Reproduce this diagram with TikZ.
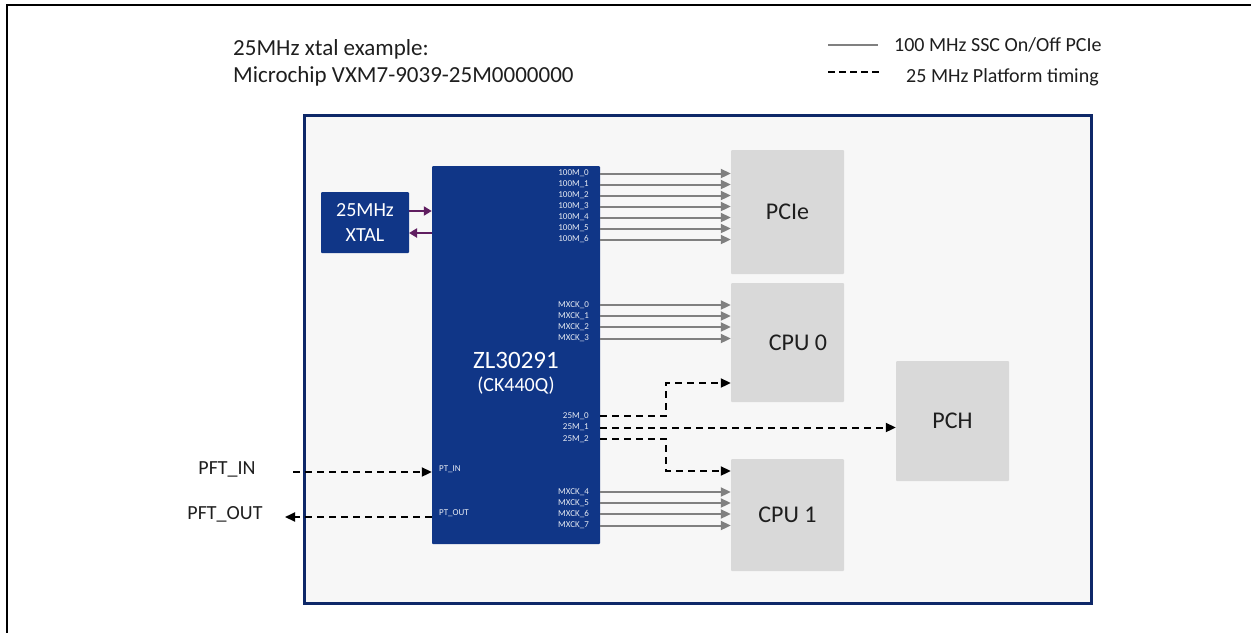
\documentclass[tikz,border=0pt]{standalone}
\usepackage{fontspec}
\setmainfont{Carlito}
\usetikzlibrary{arrows.meta,calc}
\definecolor{chipblue}{RGB}{16,54,135}
\definecolor{navy}{RGB}{14,40,104}
\definecolor{panelbg}{RGB}{247,247,247}
\definecolor{boxgray}{RGB}{217,217,217}
\definecolor{wiregray}{RGB}{128,128,128}
\definecolor{xpurple}{RGB}{96,30,96}
\definecolor{txtgray}{RGB}{30,30,30}
\newcommand{\pxfont}[1]{\fontsize{#1}{1.25\dimexpr#1pt\relax}\selectfont}
\begin{document}
\begin{tikzpicture}[x=1pt,y=-1pt,
  blk/.style={fill=boxgray, draw=none, rounded corners=1, minimum width=113, inner sep=0, font=\pxfont{24}, text=txtgray},
  chipbox/.style={fill=chipblue, draw=none, rounded corners=1, inner sep=0, text=white},
  pinlbl/.style={font=\pxfont{9}, text=white!90!chipblue, inner sep=0, anchor=east},
  wire/.style={draw=wiregray, line width=2},
  warrow/.style={wire, -{Triangle[length=10,width=9]}},
  dsh/.style={draw=black, line width=2, dash pattern=on 7 off 5},
  darrow/.style={dsh, -{Triangle[length=10,width=9]}},
  parrow/.style={draw=xpurple, line width=2, -{Triangle[length=8,width=9]}},
  plain/.style={inner sep=0, text=txtgray}
]
\useasboundingbox (0,0) rectangle (1251,633);
% outer frame
\draw[line width=2] (1251,5) -- (6.5,5) -- (6.5,633);
% panel
\draw[fill=panelbg, draw=navy, line width=3] (304.5,115.5) rectangle (1091.5,603.5);

% title texts
\node[plain, anchor=base west, font=\pxfont{23}] (t1) at (233,55) {25MHz xtal example:};
\node[plain, anchor=base west, font=\pxfont{23}] (t2) at (233,82) {Microchip VXM7-9039-25M0000000};

% legend
\coordinate (l1a) at (828,45);
\coordinate (l1b) at (878,45);
\draw[wire, line width=1.5] (l1a) -- (l1b);
\node[plain, anchor=base west, font=\pxfont{20}] (l1t) at (894,51) {100 MHz SSC On/Off PCIe};
\coordinate (l2a) at (828,72);
\coordinate (l2b) at (882,72);
\draw[dsh, line width=1.5, dash pattern=on 7 off 4] (l2a) -- (l2b);
\node[plain, anchor=base west, font=\pxfont{20}] (l2t) at (906,82) {25 MHz Platform timing};

% boxes
\node[blk, minimum height=124] (pcie) at (787.5,212) {PCIe};
\node[blk, minimum height=119] (cpu0) at (787.5,342.5) {};
\node[plain, font=\pxfont{24}] (cpu0t) at (798,343) {CPU 0};
\node[blk, minimum height=112] (cpu1) at (787.5,515) {CPU 1};
\node[blk, minimum height=120] (pch) at (952.5,421) {PCH};

% chip
\node[chipbox, minimum width=168, minimum height=378] (chip) at (516,355) {};
\node[inner sep=0, text=white, font=\pxfont{25}] (chipname) at (516,360) {ZL30291};
\node[inner sep=0, text=white, font=\pxfont{20}] (chipsub) at (516,386) {(CK440Q)};

% xtal
\node[chipbox, minimum width=88, minimum height=61, align=center, font=\pxfont{20}] (xtal) at (365,222.5) {25MHz\\XTAL};
\coordinate (x1) at (409,211);
\coordinate (x2) at (409,233);
\draw[parrow] (x1) -- (x1 -| chip.west);
\draw[parrow] (x2 -| chip.west) -- (x2);

% 100M outputs
\foreach \i/\y in {0/173.5,1/184.5,2/195.5,3/206.5,4/217.5,5/228.5,6/239.5}{
  \node[pinlbl] (h\i) at (589,\y) {100M\_\i};
  \draw[warrow] (h\i.east -| chip.east) -- (h\i.east -| pcie.west);
}
% MXCK 0-3
\foreach \i/\y in {0/305,1/316,2/327,3/338.5}{
  \node[pinlbl] (m\i) at (589,\y) {MXCK\_\i};
  \draw[warrow] (m\i.east -| chip.east) -- (m\i.east -| cpu0.west);
}
% MXCK 4-7
\foreach \i/\y in {4/492,5/503,6/514,7/525.5}{
  \node[pinlbl] (m\i) at (589,\y) {MXCK\_\i};
  \draw[warrow] (m\i.east -| chip.east) -- (m\i.east -| cpu1.west);
}
% 25M outputs
\node[pinlbl] (q0) at (589,416) {25M\_0};
\node[pinlbl] (q1) at (589,427.5) {25M\_1};
\node[pinlbl] (q2) at (589,439) {25M\_2};
\coordinate (j0) at (666,383);
\coordinate (j2) at (666,471);
\draw[darrow] (q0.east -| chip.east) -| (j0) -- (j0 -| cpu0.west);
\draw[darrow] (q1.east -| chip.east) -- (q1.east -| pch.west);
\draw[darrow] (q2.east -| chip.east) -| (j2) -- (j2 -| cpu1.west);

% platform timing in/out
\node[pinlbl, anchor=west] (ptin) at (439,469) {PT\_IN};
\node[pinlbl, anchor=west] (ptout) at (439,513) {PT\_OUT};
\node[plain, font=\pxfont{20}] (pftin) at (227,469) {PFT\_IN};
\node[plain, font=\pxfont{20}] (pftout) at (225,514) {PFT\_OUT};
\coordinate (pin) at (293,472);
\coordinate (pout) at (285,517);
\draw[darrow] (pin) -- (pin -| chip.west);
\draw[darrow] (pout -| chip.west) -- (pout);
\end{tikzpicture}
\end{document}
